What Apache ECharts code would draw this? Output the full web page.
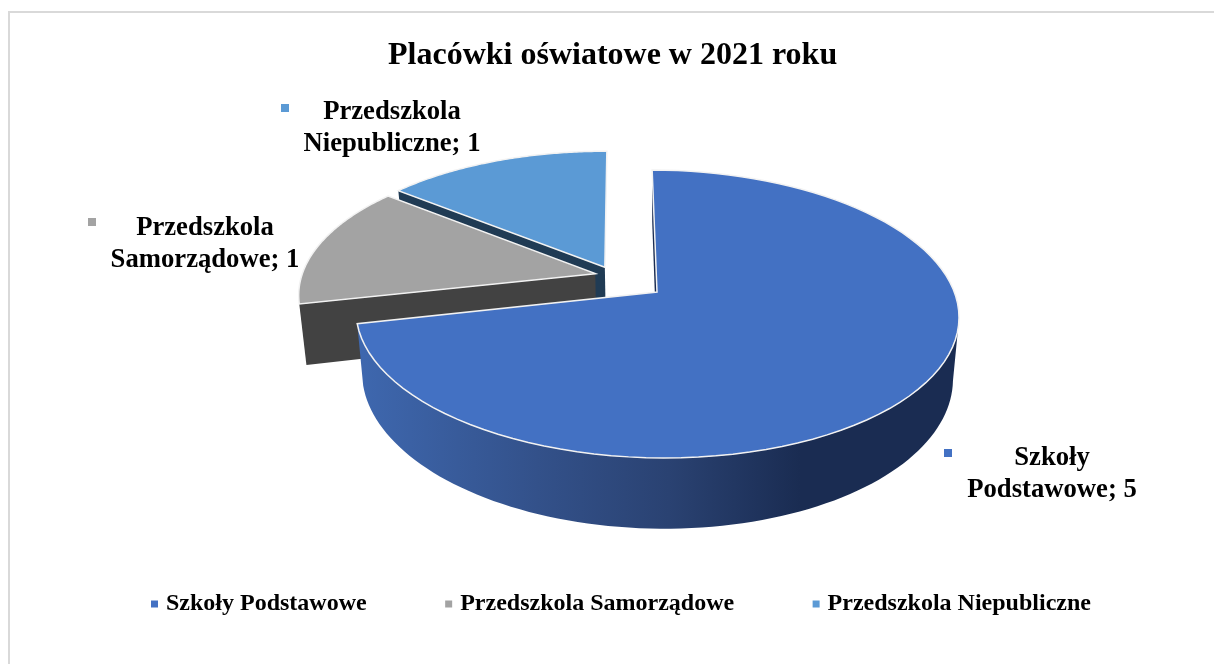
<!DOCTYPE html>
<html><head><meta charset="utf-8">
<style>html,body{margin:0;padding:0;background:#fff}#c{width:1214px;height:664px}</style>
<script src="https://cdn.jsdelivr.net/npm/echarts@6/dist/echarts.min.js"></script>
</head><body><div id="c"></div>
<script>
const titleText = 'Placówki oświatowe w 2021 roku';
const categories = ['Szkoły Podstawowe', 'Przedszkola Samorządowe', 'Przedszkola Niepubliczne'];
const values = [5, 1, 1];

const colors = ['#4371c3', '#a3a3a3', '#5b9ad5'];
const wallColors = ['#1a2c52', '#424242', '#203b54'];
// Pie geometry: perspective projection of a unit circle
const cx = 657, cy = 292, A = 298, B = 140.6, K = 0.1525, DEPTH = 60, BOTTOM_SCALE = 0.98, START = -0.5;
const SKEW_X = 3, SKEW_Y = 2;
const explode = [[0, 0], [-0.21, -0.13], [-0.178, -0.178]];
const labelPos = [[1052, 474, 948, 453], [205, 244, 92, 222], [392, 128, 285, 108]];
const total = values.reduce((a, b) => a + b, 0);

function proj(u, w, low) {
  const d = 1 - K * w;
  return [
    cx + (A * u * (low ? BOTTOM_SCALE : 1) + SKEW_X * w) / d,
    cy + (B * w + SKEW_Y * u + (low ? DEPTH : 0)) / d
  ];
}
function rimPoint(deg, e, low) {
  const t = deg * Math.PI / 180;
  return proj(Math.sin(t) + e[0], -Math.cos(t) + e[1], low);
}
function arc(a0, a1, e, low) {
  const pts = [], n = 90;
  for (let i = 0; i <= n; i++) pts.push(rimPoint(a0 + (a1 - a0) * i / n, e, low));
  return pts;
}
function sliceAngles(i) {
  let s = 0;
  for (let j = 0; j < i; j++) s += values[j];
  return [START + s / total * 360, START + (s + values[i]) / total * 360];
}
function renderSlice(i) {
  return function () {
    const [a0, a1] = sliceAngles(i), e = explode[i];
    const apex = proj(e[0], e[1], false), apexLow = proj(e[0], e[1], true);
    const children = [];
    if (i === 0) {
      // outer side of the large slice
      const top = arc(100, a1, e, false), low = arc(100, a1, e, true).reverse();
      children.push({
        type: 'polygon', shape: { points: top.concat(low) },
        style: {
          fill: new echarts.graphic.LinearGradient(362, 0, 800, 0, [
            { offset: 0, color: '#3e67ae' }, { offset: 0.4, color: '#33518a' },
            { offset: 0.7, color: '#2a4272' }, { offset: 1, color: '#1a2c52' }
          ], true)
        }
      });
    }
    // cut wall of the slice
    children.push({
      type: 'polygon',
      shape: { points: [apex, rimPoint(a0, e, false), rimPoint(a0, e, true), apexLow] },
      style: { fill: wallColors[i] }
    });
    children.push({
      type: 'polygon',
      shape: { points: [apex].concat(arc(a0, a1, e, false)) },
      style: { fill: colors[i], stroke: '#f2f2f2', lineWidth: 1.5, lineJoin: 'miter' }
    });
    const lp = labelPos[i];
    children.push({
      type: 'rect', shape: { x: lp[2] - 4, y: lp[3] - 4, width: 8, height: 8 },
      style: { fill: colors[i] }
    });
    children.push({
      type: 'text', x: lp[0], y: lp[1],
      style: {
        text: categories[i].replace(' ', '\n') + '; ' + values[i],
        fill: '#000', font: 'bold 26.67px "Liberation Serif"', lineHeight: 32,
        align: 'center', verticalAlign: 'middle'
      }
    });
    return { type: 'group', children };
  };
}
const drawOrder = [2, 1, 0];
const chart = echarts.init(document.getElementById('c'), null, { renderer: 'canvas' });
chart.setOption({
  animation: false,
  backgroundColor: '#fff',
  title: {
    text: titleText, left: 383, top: 35,
    textStyle: { fontFamily: 'Liberation Serif', fontWeight: 'bold', fontSize: 32, color: '#000' }
  },
  legend: {
    data: categories.map(name => ({ name, icon: 'rect' })),
    left: 146, top: 587, itemWidth: 7, itemHeight: 7, itemGap: 78.5,
    textStyle: { fontFamily: 'Liberation Serif', fontWeight: 'bold', fontSize: 24, color: '#000', padding: [0, 0, 0, 3] }
  },
  graphic: [{
    type: 'rect', silent: true, z: -1,
    shape: { x: 9, y: 12, width: 1300, height: 800 },
    style: { fill: 'none', stroke: '#d9d9d9', lineWidth: 2 }
  }],
  series: drawOrder.map(i => ({
    type: 'custom', name: categories[i], coordinateSystem: 'none',
    silent: true, itemStyle: { color: colors[i] },
    data: [values[i]], renderItem: renderSlice(i)
  }))
});
</script></body></html>
